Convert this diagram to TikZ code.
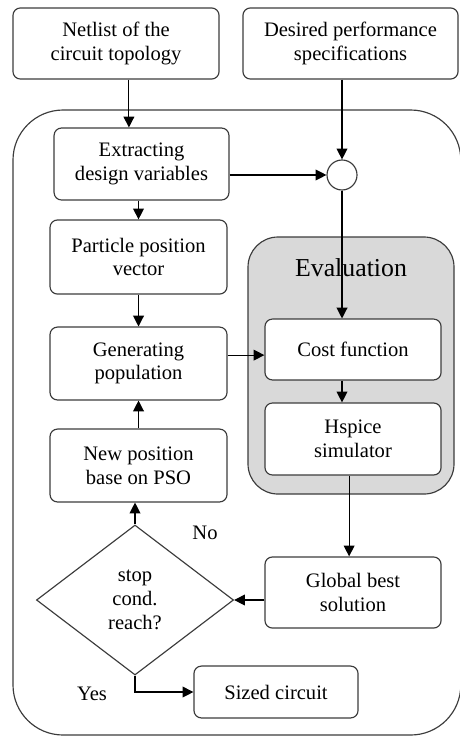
\documentclass[tikz,border=0pt]{standalone}
\usepackage{fontspec}
\setmainfont{Liberation Serif}
\usetikzlibrary{
  arrows.meta,
  positioning,
  shapes.geometric,
  calc
}
\definecolor{linecolor}{RGB}{60,60,60}
\definecolor{evalcolor}{RGB}{217,217,217}

\begin{document}
\begin{tikzpicture}[>={Triangle[length=0.36cm, width=0.36cm]},
    font=\fontsize{19.5}{22.5}\selectfont,
    procbox/.style={draw=linecolor, line width=1.1pt, rounded corners=0.25cm,
      fill=white, align=center, inner sep=0pt},
    arr/.style={->, line width=1.1pt, black}]

  \useasboundingbox (0,0) rectangle (15.3,-24.533);

  % ---- outer loop frame ----
  \draw[linecolor, line width=1.1pt, rounded corners=1.67cm]
    (0.433,-3.667) rectangle (15.36,-24.5);

  % ---- inputs ----
  \node[procbox, minimum width=6.87cm, minimum height=2.37cm] (netlist) at (3.867,-1.45)
    {Netlist of the\\circuit topology};
  \node[procbox, minimum width=7.17cm, minimum height=2.37cm] (desired) at (11.683,-1.45)
    {Desired performance\\specifications};

  % ---- Evaluation block ----
  \draw[linecolor, line width=1.1pt, fill=evalcolor, rounded corners=1cm]
    (8.267,-7.9) rectangle (15.133,-16.467);
  \node[font=\fontsize{24.5}{29}\selectfont] (evaltitle) at (11.7,-8.933) {Evaluation};
  \node[procbox, minimum width=5.87cm, minimum height=2.03cm] (cost) at (11.767,-11.65)
    {Cost function};
  \node[procbox, minimum width=5.87cm, minimum height=2.4cm] (hspice) at (11.767,-14.633)
    {Hspice\\simulator};

  % ---- PSO loop ----
  \node[procbox, minimum width=5.83cm, minimum height=2.4cm] (extract) at (4.717,-5.467)
    {Extracting\\design variables};
  \node[draw=linecolor, line width=1.1pt, fill=white, circle, minimum size=1cm,
    inner sep=0pt] (sum) at (11.4,-5.833) {};
  \node[procbox, minimum width=5.9cm, minimum height=2.47cm] (particle) at (4.617,-8.567)
    {Particle position\\vector};
  \node[procbox, minimum width=5.9cm, minimum height=2.43cm] (gen) at (4.617,-12.117)
    {Generating\\population};
  \node[procbox, minimum width=5.9cm, minimum height=2.43cm] (newpos) at (4.617,-15.517)
    {New position\\base on PSO};
  \node[procbox, minimum width=5.87cm, minimum height=2.37cm] (global) at (11.767,-19.75)
    {Global best\\solution};
  \node[draw=linecolor, line width=1.1pt, diamond, aspect=1.31, minimum width=6.57cm,
    minimum height=5cm, align=center, inner sep=0pt] (stop) at (4.5,-20)
    {stop\\cond.\\reach?};
  \node[procbox, minimum width=5.47cm, minimum height=1.73cm] (sized) at (9.2,-23.067)
    {Sized circuit};

  % labels on the decision
  \node (nolab) at (6.833,-17.767) {No};
  \node (yeslab) at (3.067,-23.133) {Yes};

  % ---- connectors ----
  \draw[arr] ([xshift=0.43cm]netlist.south) -- ([xshift=-0.42cm]extract.north);
  \draw[arr] (sum.north |- desired.south) -- (sum.north);
  \draw[arr] (extract.east |- sum) -- (sum.west);
  \draw[arr] (particle.north |- extract.south) -- (particle.north);
  \draw[arr] (particle.south) -- (gen.north);
  \draw[arr] (newpos.north) -- (gen.south);
  \draw[arr] (stop.north) -- (stop.north |- newpos.south);
  \draw[arr] (sum.south) -- (sum.south |- cost.north);
  \draw[arr] (sum.south |- cost.south) -- (sum.south |- hspice.north);
  \draw[arr] ([yshift=0.28cm]gen.east) -- ([yshift=0.28cm]gen.east -| cost.west);
  \draw[arr] ([xshift=-0.13cm]hspice.south) -- ([xshift=-0.13cm]global.north);
  \draw[arr] (global.west |- stop.east) -- (stop.east);
  \draw[arr] (stop.south) |- (sized.west);

\end{tikzpicture}
\end{document}
